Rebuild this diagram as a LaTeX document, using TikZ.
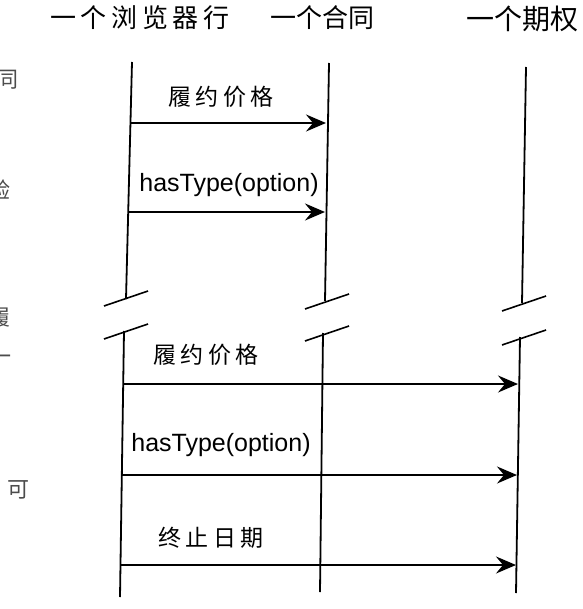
\documentclass[tikz,border=0pt]{standalone}
\usepackage{fontspec}
\setmainfont{Liberation Sans}
\newfontfamily\cjk{Noto Sans CJK SC}
\newfontfamily\cjkw[LetterSpace=18]{Noto Sans CJK SC}
\usetikzlibrary{arrows.meta}

\begin{document}
\begin{tikzpicture}[x=1pt,y=-1pt,
        life/.style={line width=1.8pt},
        brk/.style={line width=1.6pt},
        msg/.style={line width=1.7pt,-{Stealth[length=20pt,width=17pt,inset=7pt]}},
        head/.style={font=\cjk\fontsize{26}{26}\selectfont},
        lbl/.style={font=\cjkw\fontsize{23}{23}\selectfont},
        tlbl/.style={font=\fontsize{25}{25}\selectfont},
        frag/.style={font=\cjk\fontsize{22}{22}\selectfont,text=black!70}]
        \useasboundingbox (0,0) rectangle (582,609);
        \clip (0,0) rectangle (582,609);
        % lifeline heads
        \node[head,font=\cjkw\fontsize{26}{26}\selectfont] (browser) at (140,18) {一个浏览器行};
        \node[head] (contract) at (322,18) {一个合同};
        \node[head,font=\cjk\fontsize{28}{28}\selectfont] (option) at (522,19) {一个期权};
        % cut-off text at the left edge
        \node[frag] (f1) at (8,80) {同};
        \node[frag] (f2) at (0,190) {验};
        \node[frag] (f3) at (0,318) {履};
        \node[frag] (f4) at (1,360) {一};
        \node[frag] (f5) at (18,490) {可};
        % lifelines, broken in the middle
        \coordinate (b0) at (132,62);  \coordinate (b1) at (126,299);
        \coordinate (b2) at (124,331); \coordinate (b3) at (120,597);
        \coordinate (c0) at (329,63);  \coordinate (c1) at (325,301);
        \coordinate (c2) at (323,333); \coordinate (c3) at (320,592);
        \coordinate (o0) at (526,67);  \coordinate (o1) at (522,303);
        \coordinate (o2) at (520,337); \coordinate (o3) at (516,593);
        \draw[life] (b0) -- (b1);
        \draw[life] (b2) -- (b3);
        \draw[life] (c0) -- (c1);
        \draw[life] (c2) -- (c3);
        \draw[life] (o0) -- (o1);
        \draw[life] (o2) -- (o3);
        \foreach \px/\py in {104/306, 104/339, 305/309, 305/341, 502/311, 502/345} {
            \draw[brk] (\px,\py) -- ++(44,-15);
        }
        % messages before the break
        \coordinate (m1a) at (130,123); \coordinate (m1b) at (326,123);
        \coordinate (m2a) at (129,212); \coordinate (m2b) at (325,212);
        \draw[msg] (m1a) -- (m1b);
        \draw[msg] (m2a) -- (m2b);
        \node[lbl] (l1) at (221,97) {履约价格};
        \node[tlbl] (l2) at (229,185) {hasType(option)};
        % messages after the break
        \coordinate (m3a) at (123,384); \coordinate (m3b) at (518,384);
        \coordinate (m4a) at (122,475); \coordinate (m4b) at (517,475);
        \coordinate (m5a) at (121,565); \coordinate (m5b) at (516,565);
        \draw[msg] (m3a) -- (m3b);
        \draw[msg] (m4a) -- (m4b);
        \draw[msg] (m5a) -- (m5b);
        \node[lbl] (l3) at (206,355) {履约价格};
        \node[tlbl] (l4) at (221,445) {hasType(option)};
        \node[lbl] (l5) at (211,538) {终止日期};
    \end{tikzpicture}
\end{document}
